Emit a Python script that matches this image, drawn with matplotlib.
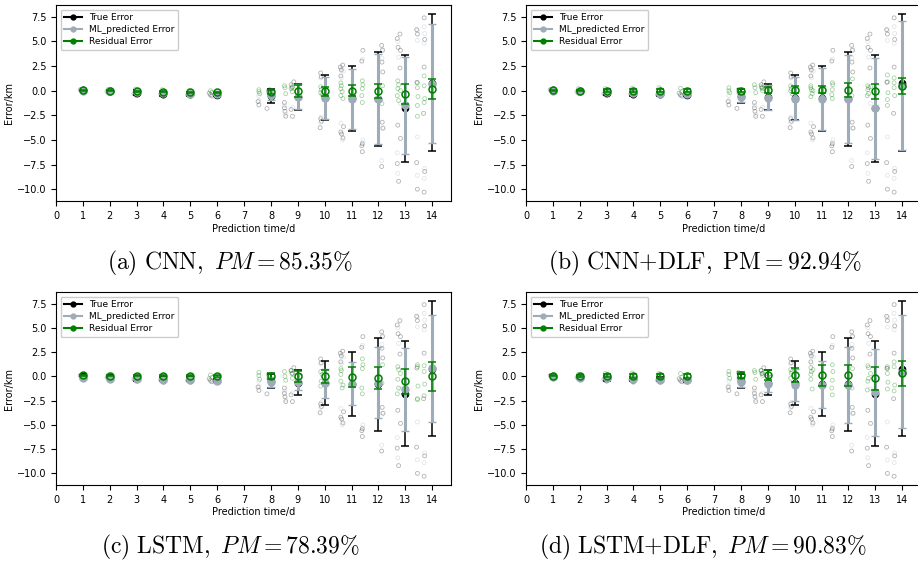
"""
Error distribution by prediction day: true error, ML-predicted error and
residual error for CNN / CNN+DLF / LSTM / LSTM+DLF.
"""
import matplotlib
matplotlib.use("Agg")
import matplotlib.pyplot as plt
from matplotlib.lines import Line2D

plt.rcParams["mathtext.fontset"] = "cm"

# ── data ────────────────────────────────────────────────────────────────────
DAYS = [1, 2, 3, 4, 5, 6, 8, 9, 10, 11, 12, 13, 14]

# true error is the same for all four models
TRUE_MEAN = [0.05, -0.05, -0.2, -0.3, -0.3, -0.4, -0.5, -0.65, -0.7, -0.78, -0.82, -1.8, 0.8]
TRUE_STD = [0.05, 0.1, 0.25, 0.2, 0.2, 0.15, 0.7, 1.3, 2.25, 3.27, 4.78, 5.4, 6.95]

ML_MEAN_A = [0.0, -0.05, -0.15, -0.2, -0.3, -0.3, -0.45, -0.6, -0.75, -0.8, -0.85, -1.5, 0.7]
ML_STD_A = [0.05, 0.1, 0.1, 0.1, 0.1, 0.1, 0.5, 1.25, 2.1, 3.05, 4.55, 4.95, 6.05]
ML_MEAN_B = [0.0, -0.05, -0.15, -0.2, -0.35, -0.35, -0.6, -0.7, -0.8, -0.85, -0.85, -1.8, 0.5]
ML_STD_B = [0.05, 0.1, 0.1, 0.1, 0.1, 0.1, 0.5, 1.25, 2.2, 3.15, 4.5, 5.15, 6.55]
ML_MEAN_C = [-0.2, -0.3, -0.3, -0.35, -0.4, -0.45, -0.55, -0.6, -0.7, -0.75, -0.65, -1.35, 0.82]
ML_STD_C = [0.05, 0.1, 0.1, 0.1, 0.1, 0.1, 0.5, 0.8, 1.5, 2.2, 3.65, 4.25, 5.5]
ML_MEAN_D = [-0.1, -0.15, -0.2, -0.25, -0.35, -0.4, -0.6, -0.75, -0.85, -0.85, -0.9, -1.65, 0.5]
ML_STD_D = [0.05, 0.1, 0.1, 0.1, 0.1, 0.1, 0.5, 0.9, 1.65, 2.4, 3.9, 4.45, 5.8]

RES_MEAN_A = [0.05, 0.0, -0.05, -0.1, -0.15, -0.15, -0.1, 0.0, -0.05, 0.0, -0.05, -0.35, 0.15]
RES_STD_A = [0.05, 0.05, 0.05, 0.05, 0.05, 0.05, 0.2, 0.6, 0.45, 0.55, 0.7, 1.0, 1.0]
RES_MEAN_B = [0.05, 0.0, 0.0, 0.0, 0.0, 0.0, 0.0, 0.05, 0.1, 0.1, 0.1, -0.05, 0.45]
RES_STD_B = [0.05, 0.05, 0.15, 0.15, 0.15, 0.15, 0.15, 0.3, 0.35, 0.35, 0.7, 0.75, 0.8]
RES_MEAN_C = [0.1, 0.05, 0.05, 0.05, 0.05, 0.05, 0.0, 0.0, 0.0, -0.08, -0.15, -0.5, 0.0]
RES_STD_C = [0.05, 0.05, 0.05, 0.05, 0.05, 0.05, 0.3, 0.6, 0.7, 1.0, 1.15, 1.3, 1.5]
RES_MEAN_D = [0.05, 0.05, 0.05, 0.05, 0.05, 0.05, 0.15, 0.15, 0.15, 0.1, 0.1, -0.2, 0.3]
RES_STD_D = [0.05, 0.1, 0.15, 0.2, 0.2, 0.2, 0.3, 0.5, 0.7, 1.05, 1.1, 1.2, 1.28]

# individual samples (x already includes the plotting offset)
TRUE_PTS_X = [0.9, 0.95, 1.0, 1.9, 1.95, 2.0, 2.9, 2.95, 3.0, 3.9, 3.95, 4.0, 4.9, 4.95, 5.0,
              5.7, 5.75, 5.8, 5.95,
              7.52, 7.55, 7.85, 7.95, 7.95,
              8.5, 8.5, 8.52, 8.55, 8.75, 8.78, 8.75, 8.8, 8.85,
              9.85, 9.87, 9.85, 9.88, 9.83,
              10.58, 10.62, 10.6, 10.67, 10.6, 10.63, 10.68, 10.7,
              11.38, 11.42, 11.4, 11.38, 11.4, 12.12, 12.15, 12.13, 12.16, 12.14, 12.17, 12.12,
              12.7, 12.73, 12.72, 12.7, 12.75, 12.8, 12.82, 12.8, 12.82,
              13.42, 13.45, 13.43, 13.42, 13.45, 13.7, 13.72, 13.7, 13.68, 13.72, 13.7]
TRUE_PTS_Y = [0.1, 0.0, -0.05, -0.1, -0.25, -0.3, -0.3, -0.4, -0.5, -0.35, -0.5, -0.6, -0.4, -0.5, -0.6,
              -0.25, -0.4, -0.55, -0.5,
              -1.1, -1.45, -1.8, 0.1, -0.3,
              -1.2, -1.75, -2.1, -2.6, 0.6, 0.3, -1.9, -2.6, 0.9,
              1.8, 1.4, -2.85, -3.1, -3.75,
              2.4, 2.1, 1.5, 2.6, -4.2, -4.4, -4.8, -3.65,
              3.0, 4.1, -5.4, -5.6, -6.2, 4.6, 4.1, 2.9, 1.9, -3.2, -3.8, -7.7,
              5.3, 4.4, -3.5, -7.4, -9.2, 5.75, 4.1, 2.3, -4.85,
              6.2, 5.75, 0.85, -7.3, -10.0, 7.4, 5.2, 2.4, -2.3, -8.2, -10.3]

ML_PTS_X = [0.95, 1.95, 2.95, 3.95, 4.95, 5.75, 5.9,
            7.55, 7.55, 7.9,
            8.5, 8.55, 8.8, 8.8,
            9.85, 9.87, 9.85,
            10.6, 10.62, 10.6, 10.65, 10.7,
            11.4, 11.42, 11.4, 12.15, 12.13, 12.15, 12.12,
            12.72, 12.75, 12.7, 12.72, 12.82,
            13.45, 13.45, 13.45, 13.45, 13.7, 13.72, 13.7, 13.72, 13.7]
ML_PTS_Y = [-0.1, -0.2, -0.3, -0.4, -0.4, -0.5, -0.6,
            -0.5, -1.0, -0.2,
            -1.5, -2.4, 0.4, -1.7,
            1.3, -2.7, -3.2,
            2.2, 1.3, -3.3, -5.0, 2.0,
            3.2, -5.0, -5.3, 4.2, 3.3, -3.8, -7.1,
            5.0, 3.4, -6.3, -8.4, -1.3,
            6.1, 5.1, -4.7, -8.6, 6.5, 5.8, 4.8, -7.9, -8.9]

RES_PTS_X = [0.95, 1.95, 2.95, 3.95, 4.95, 5.75, 5.8,
             7.55, 7.55, 7.58, 7.9,
             8.5, 8.52, 8.55, 8.75, 8.8, 8.8,
             9.85, 9.87, 9.85, 9.9,
             10.6, 10.62, 10.6, 10.65, 10.6, 10.68,
             11.4, 11.42, 11.4, 11.38, 11.4, 12.15, 12.13,
             12.72, 12.75, 12.72, 12.7, 12.75, 12.82,
             13.45, 13.45, 13.47, 13.45, 13.45, 13.7, 13.7, 13.72, 13.7]
RES_PTS_Y_A = [0.1, 0.15, 0.15, 0.1, 0.0, 0.0, -0.15,
               0.1, -0.1, -0.3, 0.0,
               0.5, 0.3, -0.3, 0.2, -0.1, 0.4,
               0.4, 0.1, -0.2, -0.4,
               0.8, 0.5, 0.2, -0.1, -0.5, -0.8,
               1.0, 0.6, 0.2, -0.5, -1.2, 0.5, -1.3,
               1.0, 0.6, 0.2, -0.5, -1.0, 0.0,
               0.8, 0.3, -0.6, -1.5, -2.6, 1.5, 0.5, -0.8, -1.2]
RES_PTS_Y_B = [0.1, 0.2, 0.2, 0.25, 0.3, 0.25, -0.1,
               0.3, 0.0, -0.2, 0.1,
               0.6, 0.3, -0.2, 0.4, 0.0, 0.2,
               0.5, 0.2, 0.0, -0.3,
               0.5, 0.1, 0.3, -0.3, -0.6, 0.0,
               0.8, 0.6, 0.1, -0.4, -0.8, 1.2, -0.5,
               0.5, 0.3, 0.1, -0.5, -0.3, 0.4,
               1.6, 0.9, -0.2, -1.5, -0.9, 1.3, 0.3, -0.5, 0.8]
RES_PTS_Y_C = [0.1, 0.15, 0.1, 0.1, 0.1, 0.15, -0.1,
               0.4, 0.1, -0.3, 0.2,
               0.5, 0.0, -0.4, 0.6, -0.2, 0.3,
               0.5, -0.5, -1.0, 0.2,
               0.8, 0.6, -0.5, -1.2, 0.2, -0.9,
               1.8, 1.2, 0.8, -1.2, -1.8, 1.2, -0.7,
               1.0, 0.7, -0.3, -1.8, -1.2, 0.3,
               1.2, 1.0, -1.0, -2.3, -2.4, 1.1, 0.5, -0.8, -2.0]
RES_PTS_Y_D = [0.1, 0.2, 0.3, 0.35, 0.3, 0.3, -0.1,
               0.5, 0.2, -0.2, 0.4,
               0.6, 0.4, -0.3, 0.6, 0.1, 0.3,
               0.7, 0.3, -0.2, 0.5,
               0.9, 0.5, -0.3, -1.3, 0.2, 0.7,
               1.2, 0.5, -0.4, -1.2, -1.9, 0.8, -1.2,
               1.1, 0.9, -0.5, -1.4, -0.2, 0.3,
               1.0, 0.8, -0.6, -1.3, 0.3, 1.5, 1.0, -0.9, -1.5]

CAPTIONS = [r"$\mathrm{(a)\ CNN,}\ PM = 85.35\%$",
            r"$\mathrm{(b)\ CNN{+}DLF,\ PM} = \mathrm{92.94\%}$",
            r"$\mathrm{(c)\ LSTM,}\ PM = 78.39\%$",
            r"$\mathrm{(d)\ LSTM{+}DLF,}\ PM = 90.83\%$"]

ML_COLOR = "#9eacba"
RES_COLOR = "green"

panels = [
    (ML_MEAN_A, ML_STD_A, RES_MEAN_A, RES_STD_A, RES_PTS_Y_A),
    (ML_MEAN_B, ML_STD_B, RES_MEAN_B, RES_STD_B, RES_PTS_Y_B),
    (ML_MEAN_C, ML_STD_C, RES_MEAN_C, RES_STD_C, RES_PTS_Y_C),
    (ML_MEAN_D, ML_STD_D, RES_MEAN_D, RES_STD_D, RES_PTS_Y_D),
]

# axes rectangles in figure fraction (left, bottom, width, height)
W, H = 918, 565
rects = [
    (56 / W, 1 - 201 / H, 395 / W, 196 / H),
    (526 / W, 1 - 201 / H, 395 / W, 196 / H),
    (56 / W, 1 - 485 / H, 395 / W, 193 / H),
    (526 / W, 1 - 485 / H, 395 / W, 193 / H),
]
cap_pos = [(230 / W, 1 - 263 / H), (705 / W, 1 - 263 / H),
           (230 / W, 1 - 547 / H), (703 / W, 1 - 547 / H)]

fig = plt.figure(figsize=(W / 100, H / 100), dpi=100)

for i, (ml_m, ml_s, res_m, res_s, res_pts) in enumerate(panels):
    ax = fig.add_axes(rects[i])

    # raw samples
    ax.scatter(TRUE_PTS_X, TRUE_PTS_Y, s=8, facecolors="none", edgecolors="black",
               linewidths=0.6, alpha=0.3, zorder=1)
    ax.scatter(ML_PTS_X, ML_PTS_Y, s=8, facecolors="none", edgecolors=ML_COLOR,
               linewidths=0.6, alpha=0.3, zorder=1)
    ax.scatter(RES_PTS_X, res_pts, s=8, facecolors="none", edgecolors=RES_COLOR,
               linewidths=0.6, alpha=0.35, zorder=1)

    # mean ± std
    ax.errorbar(DAYS, TRUE_MEAN, yerr=TRUE_STD, fmt="o", color="black", ms=4.5,
                elinewidth=1.1, capsize=3, capthick=1.1, zorder=2)
    ax.errorbar(DAYS, ml_m, yerr=ml_s, fmt="o", color=ML_COLOR, ms=5,
                elinewidth=2.2, capsize=3, capthick=1.0, zorder=3)
    ax.errorbar(DAYS, res_m, yerr=res_s, fmt="o", color=RES_COLOR, mfc="none", ms=5,
                mew=1.1, elinewidth=1.1, capsize=3, capthick=1.1, zorder=4)

    ax.set_xlim(0, 14.7)
    ax.set_ylim(-11.2, 8.7)
    ax.set_xticks(range(0, 15))
    ax.tick_params(labelsize=7)
    ax.set_xlabel("Prediction time/d", fontsize=7, labelpad=2)
    ax.set_ylabel("Error/km", fontsize=7, labelpad=2)

    handles = [
        Line2D([], [], color="black", marker="o", ms=3.5, label="True Error"),
        Line2D([], [], color=ML_COLOR, marker="o", ms=3.5, label="ML_predicted Error"),
        Line2D([], [], color=RES_COLOR, marker="o", ms=3.5, label="Residual Error"),
    ]
    ax.legend(handles=handles, loc="upper left", fontsize=6.5, handlelength=2.0,
              borderpad=0.4, labelspacing=0.35, framealpha=1.0)

    fig.text(cap_pos[i][0], cap_pos[i][1], CAPTIONS[i], ha="center", va="center",
             fontsize=17)

fig.savefig("out.png", dpi=100)
